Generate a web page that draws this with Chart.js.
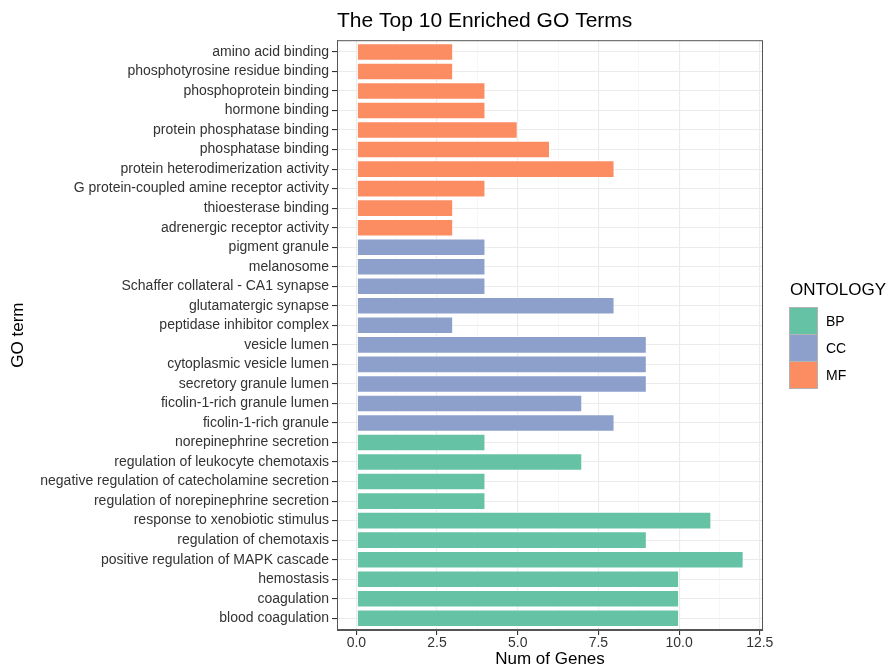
<!DOCTYPE html>
<html>
<head>
<meta charset="utf-8">
<script src="https://cdn.jsdelivr.net/npm/chart.js@4.4.1/dist/chart.umd.min.js"></script>
<style>
  html, body { margin: 0; padding: 0; background: #fff; }
  #wrap { position: relative; width: 888px; height: 670px; font-family: "Liberation Sans", Arial, sans-serif; }
  #legend { position: absolute; left: 789px; top: 280px; }
  #legend .title { font-size: 17px; color: #000; margin-bottom: 7px; margin-left: 1px; }
  #legend .row { display: flex; align-items: center; height: 27px; }
  #legend .key { width: 27px; height: 26px; border: 1px solid #b3b3b3; box-sizing: content-box; }
  #legend .lab { font-size: 14px; color: #000; margin-left: 8px; }
</style>
</head>
<body>
<div id="wrap">
  <canvas id="chart" width="888" height="670"></canvas>
  <div id="legend"></div>
</div>
<script>
// GO terms, top to bottom as in the figure
const terms = [
	'amino acid binding',
	'phosphotyrosine residue binding',
	'phosphoprotein binding',
	'hormone binding',
	'protein phosphatase binding',
	'phosphatase binding',
	'protein heterodimerization activity',
	'G protein-coupled amine receptor activity',
	'thioesterase binding',
	'adrenergic receptor activity',
	'pigment granule',
	'melanosome',
	'Schaffer collateral - CA1 synapse',
	'glutamatergic synapse',
	'peptidase inhibitor complex',
	'vesicle lumen',
	'cytoplasmic vesicle lumen',
	'secretory granule lumen',
	'ficolin-1-rich granule lumen',
	'ficolin-1-rich granule',
	'norepinephrine secretion',
	'regulation of leukocyte chemotaxis',
	'negative regulation of catecholamine secretion',
	'regulation of norepinephrine secretion',
	'response to xenobiotic stimulus',
	'regulation of chemotaxis',
	'positive regulation of MAPK cascade',
	'hemostasis',
	'coagulation',
	'blood coagulation'
];

const ontology = [
	'MF', 'MF', 'MF', 'MF', 'MF', 'MF', 'MF', 'MF', 'MF', 'MF',
	'CC', 'CC', 'CC', 'CC', 'CC', 'CC', 'CC', 'CC', 'CC', 'CC',
	'BP', 'BP', 'BP', 'BP', 'BP', 'BP', 'BP', 'BP', 'BP', 'BP'
];

const geneCounts = [
	3, 3, 4, 4, 5, 6, 8, 4, 3, 3,
	4, 4, 4, 8, 3, 9, 9, 9, 7, 8,
	4, 7, 4, 4, 11, 9, 12, 10, 10, 10
];

const legendLevels = ['BP', 'CC', 'MF'];
const xTicks = [0, 2.5, 5, 7.5, 10, 12.5];
const xMinorTicks = [1.25, 3.75, 6.25, 8.75, 11.25];

const colors = { BP: '#66C2A5', CC: '#8DA0CB', MF: '#FC8D62' };
const font = '"Liberation Sans", Arial, sans-serif';

// ggplot-style expansion: 5% on the value axis, 0.6 on the discrete axis
const xMax = Math.max(...geneCounts);
const xPad = xMax * 0.05;

const canvas = document.getElementById('chart');

const data = {
	datasets: [{
		data: geneCounts.map((v, i) => ({ x: v, y: i })),
		backgroundColor: ontology.map((o) => colors[o]),
		borderColor: 'rgba(255,255,255,0.6)',
		borderWidth: 1,
		borderSkipped: false,
		barPercentage: 0.9,
		categoryPercentage: 1
	}]
};

const allXTicks = xTicks.concat(xMinorTicks).sort((a, b) => a - b);

const config = {
	type: 'bar',
	data: data,
	options: {
		indexAxis: 'y',
		responsive: false,
		animation: false,
		layout: { padding: { top: 0, right: 125, bottom: 0, left: 0 } },
		plugins: {
			legend: { display: false },
			tooltip: { enabled: false },
			title: {
				display: true,
				text: 'The Top 10 Enriched GO Terms',
				align: 'start',
				fullSize: false,
				color: '#000',
				font: { family: font, size: 21, weight: 'normal' },
				padding: { top: 9, bottom: 6 }
			}
		},
		scales: {
			x: {
				type: 'linear',
				min: -xPad,
				max: xMax + xPad,
				afterBuildTicks: (s) => { s.ticks = allXTicks.map((v) => ({ value: v })); },
				afterFit: (s) => { s.height = 40; },
				border: { display: true, color: '#555', width: 1 },
				grid: {
					color: (ctx) => (xMinorTicks.includes(ctx.tick.value) ? '#F2F2F2' : '#EBEBEB'),
					lineWidth: (ctx) => (xMinorTicks.includes(ctx.tick.value) ? 0.6 : 1.1),
					tickColor: (ctx) => (xMinorTicks.includes(ctx.tick.value) ? 'rgba(0,0,0,0)' : '#333'),
					tickLength: 5
				},
				ticks: {
					autoSkip: false,
					maxRotation: 0,
					padding: 0,
					color: '#333',
					font: { family: font, size: 14 },
					callback: (v) => (xTicks.includes(v) ? v.toFixed(1) : '')
				},
				title: {
					display: true,
					text: 'Num of Genes',
					color: '#000',
					font: { family: font, size: 17 },
					padding: { top: 0, bottom: 0 }
				}
			},
			y: {
				type: 'linear',
				reverse: true,
				offset: false,
				min: -0.6,
				max: terms.length - 1 + 0.6,
				afterBuildTicks: (s) => { s.ticks = terms.map((t, i) => ({ value: i })); },
				afterFit: (s) => { s.width = 337; },
				border: { display: true, color: '#555', width: 1 },
				grid: {
					offset: false,
					color: '#EBEBEB',
					lineWidth: 1.1,
					tickColor: '#333',
					tickLength: 5
				},
				ticks: {
					autoSkip: false,
					padding: 3,
					color: '#333',
					font: { family: font, size: 14 },
					callback: (v) => terms[v]
				},
				title: {
					display: true,
					text: 'GO term',
					color: '#000',
					font: { family: font, size: 17 },
					padding: { top: 8, bottom: 0 }
				}
			}
		}
	},
	plugins: [{
		// full panel border like theme_bw
		id: 'panelBorder',
		afterDraw: (chart) => {
			const a = chart.chartArea;
			const c = chart.ctx;
			c.save();
			c.strokeStyle = '#555';
			c.lineWidth = 1;
			c.strokeRect(a.left + 0.5, a.top + 0.5, a.right - a.left - 1, a.bottom - a.top - 1);
			c.restore();
		}
	}]
};

const graph = new Chart(canvas, config);

// Legend a la ggplot
const legend = document.getElementById('legend');
let html = '<div class="title">ONTOLOGY</div>';
legendLevels.forEach((l) => {
	html += '<div class="row"><div class="key" style="background:' + colors[l] + '"></div><div class="lab">' + l + '</div></div>';
});
legend.innerHTML = html;
</script>
</body>
</html>
